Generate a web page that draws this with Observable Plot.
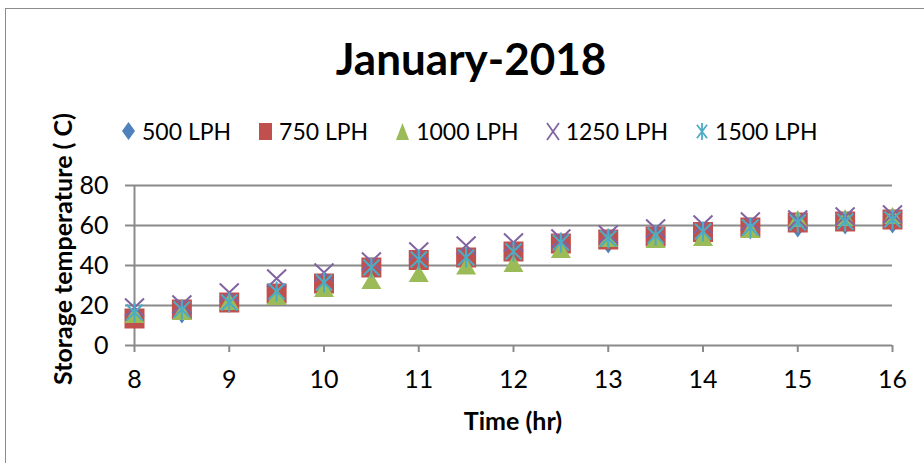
<!DOCTYPE html>
<html>
<head>
<meta charset="utf-8">
<script src="https://cdn.jsdelivr.net/npm/d3@7"></script>
<script src="https://cdn.jsdelivr.net/npm/@observablehq/plot@0.6"></script>
<style>
  body { margin: 0; background: #fff; font-family: Lato, "Open Sans", sans-serif; color: #000; }
  #chart { position: relative; width: 924px; height: 463px; overflow: hidden; background: #fff; }
  #frame { position: absolute; left: 5px; top: 8px; right: -10px; bottom: -10px;
           border-left: 1.5px solid #8c8c8c; border-top: 1.5px solid #8c8c8c; pointer-events: none; }
  #plot { position: absolute; left: 0; top: 0; }
  #title { position: absolute; left: 0; width: 942px; top: 36px; text-align: center;
           font-weight: 700; font-size: 44px; line-height: 1; }
  #legend { position: absolute; left: 122px; top: 131px; transform: translateY(-50%);
            display: flex; align-items: center; font-size: 23px; }
  #legend .item { display: flex; align-items: center; margin-right: 28px; }
  #legend svg { margin-right: 7px; overflow: visible; }
  #ytitle { position: absolute; left: 62px; top: 249px; transform: translate(-50%, -50%) rotate(-90deg);
            white-space: nowrap; font-weight: 700; font-size: 25px; }
  #xtitle { position: absolute; left: 513px; top: 420px; transform: translate(-50%, -50%);
            white-space: nowrap; font-weight: 700; font-size: 25px; }
</style>
</head>
<body>
<div id="chart">
  <div id="plot"></div>
  <div id="frame"></div>
  <div id="title">January-2018</div>
  <div id="legend"></div>
  <div id="ytitle">Storage temperature ( C)</div>
  <div id="xtitle">Time (hr)</div>
</div>
<script>
// Hours of the day at which the storage tank temperature was logged
const hours = [8, 8.5, 9, 9.5, 10, 10.5, 11, 11.5, 12, 12.5, 13, 13.5, 14, 14.5, 15, 15.5, 16];

// Storage temperature (°C) for each flow rate
const seriesNames = ["500 LPH", "750 LPH", "1000 LPH", "1250 LPH", "1500 LPH"];
const temp500  = [14, 15.5, 21, 26, 31, 39, 43, 44, 47, 51, 50.5, 53.5, 57, 57.5, 58.5, 60, 60.5];
const temp750  = [13.5, 18, 21.5, 26, 31, 39, 42.75, 44, 47, 51, 53, 54.5, 56.75, 59, 61.5, 62, 63];
const temp1000 = [15.5, 17, 22, 24.5, 28.5, 32.5, 36, 39.75, 41, 48, 53.5, 53, 54, 58, 63.5, 64, 65];
const temp1250 = [19, 20.5, 26.5, 33.5, 36.5, 42, 47, 50, 51.5, 53.5, 55.5, 58.5, 60.5, 62, 63, 64.5, 65.5];
const temp1500 = [16.5, 18, 21.5, 27, 31.5, 39, 43, 44, 47, 51.5, 53.5, 55, 57, 59, 61.5, 62, 63];

// Axis ticks
const xTicks = [8, 9, 10, 11, 12, 13, 14, 15, 16];
const yTicks = [0, 20, 40, 60, 80];

const seriesValues = [temp500, temp750, temp1000, temp1250, temp1500];
const seriesColors = ["#4F81BD", "#C0504D", "#9BBB59", "#8064A2", "#4BACC6"];

// Marker shapes (w × h in pixels)
const diamond = (w, h) => ({draw(c) { c.moveTo(0, -h / 2); c.lineTo(w / 2, 0); c.lineTo(0, h / 2); c.lineTo(-w / 2, 0); c.closePath(); }});
const square = (w, h) => ({draw(c) { c.rect(-w / 2, -h / 2, w, h); }});
const triangle = (w, h) => ({draw(c) { c.moveTo(0, -h / 2); c.lineTo(w / 2, h / 2); c.lineTo(-w / 2, h / 2); c.closePath(); }});
const cross = (w, h) => ({draw(c) { c.moveTo(-w / 2, -h / 2); c.lineTo(w / 2, h / 2); c.moveTo(-w / 2, h / 2); c.lineTo(w / 2, -h / 2); }});
const star = (w, h) => ({draw(c) {
  const a = w / 2 * 0.85, b = h / 2 * 0.8;
  c.moveTo(-a, -b); c.lineTo(a, b); c.moveTo(-a, b); c.lineTo(a, -b);
  c.moveTo(0, -h / 2); c.lineTo(0, h / 2);
}});
const shapes = [diamond, square, triangle, cross, star];
const plotSizes = [[13, 18], [20, 20], [20, 17], [19, 18], [19, 20]];
const legendSizes = [[13, 18], [13, 17], [13, 17], [12, 17], [12, 17]];
const outlined = [false, false, false, true, true];

const rows = seriesNames.map((name, i) => hours.map((h, j) => ({series: name, hour: h, temp: seriesValues[i][j]})));

const dotMarks = seriesNames.map((name, i) => {
  const sym = shapes[i](...plotSizes[i]);
  return outlined[i]
    ? Plot.dot(rows[i], {x: "hour", y: "temp", symbol: sym, r: 3, fill: "none", stroke: seriesColors[i], strokeWidth: 2})
    : Plot.dot(rows[i], {x: "hour", y: "temp", symbol: sym, r: 3, fill: seriesColors[i], stroke: "none"});
});

const chart = Plot.plot({
  width: 924,
  height: 463,
  marginLeft: 134,
  marginRight: 32,
  marginTop: 185,
  marginBottom: 118,
  style: {fontFamily: "Lato, 'Open Sans', sans-serif", fontSize: "25px", color: "#000", background: "transparent"},
  x: {domain: [8, 16]},
  y: {domain: [0, 80]},
  marks: [
    Plot.ruleY(yTicks, {stroke: "#8a8a8a", strokeWidth: 2, insetLeft: -9}),
    Plot.ruleX([8], {stroke: "#8a8a8a", strokeWidth: 2}),
    Plot.axisX({ticks: xTicks, tickSize: 7, tickPadding: 18, stroke: "#8a8a8a", strokeWidth: 2, fill: "#000", label: null}),
    Plot.axisY({ticks: yTicks, tickSize: 0, tickPadding: 26, fill: "#000", label: null}),
    ...dotMarks
  ]
});
document.getElementById("plot").append(chart);

// Legend built from the same series arrays
const legend = d3.select("#legend");
seriesNames.forEach((name, i) => {
  const [w, h] = legendSizes[i];
  const item = legend.append("div").attr("class", "item");
  const svg = item.append("svg").attr("width", w).attr("height", h + 2);
  const p = d3.path();
  shapes[i](w, h).draw(p);
  svg.append("path")
    .attr("transform", `translate(${w / 2},${h / 2 + 1})`)
    .attr("d", p.toString())
    .attr("fill", outlined[i] ? "none" : seriesColors[i])
    .attr("stroke", outlined[i] ? seriesColors[i] : "none")
    .attr("stroke-width", 1.8);
  item.append("span").text(name);
});
</script>
</body>
</html>
